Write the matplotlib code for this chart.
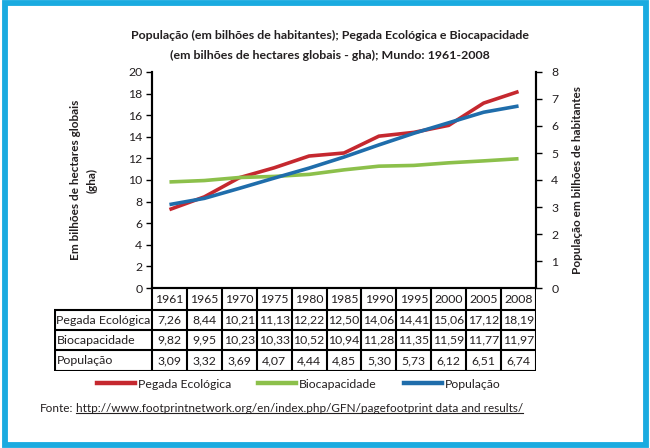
import matplotlib.pyplot as plt
from matplotlib.lines import Line2D
from matplotlib.patches import Rectangle

plt.rcParams['font.family'] = ['Lato', 'DejaVu Sans']

years = ["1961", "1965", "1970", "1975", "1980", "1985", "1990", "1995", "2000", "2005", "2008"]
pegada = [7.26, 8.44, 10.21, 11.13, 12.22, 12.50, 14.06, 14.41, 15.06, 17.12, 18.19]
biocap = [9.82, 9.95, 10.23, 10.33, 10.52, 10.94, 11.28, 11.35, 11.59, 11.77, 11.97]
populacao = [3.09, 3.32, 3.69, 4.07, 4.44, 4.85, 5.30, 5.73, 6.12, 6.51, 6.74]
series_names = ["Pegada Ecológica", "Biocapacidade", "População"]

RED = "#C5282F"
GREEN = "#8CC04B"
BLUE = "#1F6DAB"
TXT = "#231F20"
W, H = 650, 448


def fx(px):
    return px / W


def fy(py):
    return 1 - py / H


fig = plt.figure(figsize=(6.5, 4.48), dpi=100)

# cyan frame
fig.add_artist(Rectangle((fx(4.5), fy(444.5)), fx(646) - fx(4.5), fy(3) - fy(444.5),
                         transform=fig.transFigure, fill=False, edgecolor="#1AABE0", lw=4.2))

# title
fig.text(fx(330), fy(35), "População (em bilhões de habitantes); Pegada Ecológica e Biocapacidade",
         ha="center", va="center", fontsize=8.9, fontweight="bold", color=TXT)
fig.text(fx(330), fy(55), "(em bilhões de hectares globais - gha); Mundo: 1961-2008",
         ha="center", va="center", fontsize=8.9, fontweight="bold", color=TXT)

# main chart
x0, x1, ytop, ybot = 152, 536, 72, 288
ax = fig.add_axes([fx(x0), fy(ybot), fx(x1) - fx(x0), fy(ytop) - fy(ybot)])
xs = list(range(len(years)))
ax.plot(xs, pegada, color=RED, lw=2.6, solid_capstyle="butt")
ax.plot(xs, biocap, color=GREEN, lw=2.6, solid_capstyle="butt")
ax.set_xlim(-0.5, len(years) - 0.5)
ax.set_ylim(0, 20)
ax.set_yticks(range(0, 21, 2))
ax.set_xticks([])
ax.spines["top"].set_visible(False)
for s in ["left", "right", "bottom"]:
    ax.spines[s].set_linewidth(1.5)
ax.tick_params(axis="y", direction="out", length=4, width=1, labelsize=8.8,
               labelcolor=TXT, pad=3)
ax.set_ylabel("Em bilhões de hectares globais\n(gha)", fontsize=8.5, fontweight="bold",
              color=TXT, labelpad=22, linespacing=1.6)

ax2 = ax.twinx()
ax2.plot(xs, populacao, color=BLUE, lw=2.6, solid_capstyle="butt")
ax2.set_ylim(0, 8)
ax2.set_yticks(range(0, 9))
ax2.spines["top"].set_visible(False)
for s in ["left", "right", "bottom"]:
    ax2.spines[s].set_linewidth(1.5)
ax2.tick_params(axis="y", direction="out", length=4, width=1, labelsize=8.8,
                labelcolor=TXT, pad=7)
ax2.set_ylabel("População em bilhões de habitantes", fontsize=8.5, fontweight="bold",
               color=TXT, labelpad=10)

# data table below the chart
tleft, tbot = 54, 371
col_w = (x1 - x0) / len(years)
xl = -0.5 - (x0 - tleft) / col_w
tax = fig.add_axes([fx(tleft), fy(tbot), fx(x1) - fx(tleft), fy(ybot) - fy(tbot)])
tax.set_xlim(xl, len(years) - 0.5)
rows_y = [0, 22, 42, 62, 83]
tax.set_ylim(rows_y[-1], 0)
tax.axis("off")
lw = 1.5
for k in range(len(years) + 1):
    tax.vlines(k - 0.5, 0, rows_y[-1], color="black", lw=lw)
tax.vlines(xl + 0.03, rows_y[1], rows_y[-1], color="black", lw=lw)
for yy in rows_y[1:]:
    tax.hlines(yy, xl, len(years) - 0.5, color="black", lw=lw)

for i, yr in enumerate(years):
    tax.text(i, (rows_y[0] + rows_y[1]) / 2, yr, ha="center", va="center", fontsize=8.8, color=TXT)
for r, (name, vals) in enumerate(zip(series_names, [pegada, biocap, populacao])):
    yc = (rows_y[r + 1] + rows_y[r + 2]) / 2
    tax.text(xl + 0.07, yc, name, ha="left", va="center", fontsize=8.9, color=TXT)
    for i, v in enumerate(vals):
        tax.text(i, yc, f"{v:.2f}".replace(".", ","), ha="center", va="center",
                 fontsize=8.8, color=TXT)

# legend
handles = [Line2D([], [], color=c, lw=3.2) for c in [RED, GREEN, BLUE]]
fig.legend(handles, series_names, loc="center", bbox_to_anchor=(fx(299), fy(384)), ncol=3,
           frameon=False, fontsize=8.8, handlelength=3.1, handletextpad=0.25,
           columnspacing=2.2, labelcolor=TXT)

# source with underlined url
fig.text(fx(40), fy(408), "Fonte:", ha="left", va="center", fontsize=8.5, color=TXT)
url = fig.text(fx(76), fy(408), "http://www.footprintnetwork.org/en/index.php/GFN/pagefootprint data and results/",
               ha="left", va="center", fontsize=8.5, color=TXT)
fig.canvas.draw()
bb = url.get_window_extent()
fig.add_artist(Line2D([bb.x0 / W, bb.x1 / W], [(bb.y0 + 1) / H, (bb.y0 + 1) / H],
                      transform=fig.transFigure, color=TXT, lw=0.8))

fig.savefig("out.png", dpi=100)
